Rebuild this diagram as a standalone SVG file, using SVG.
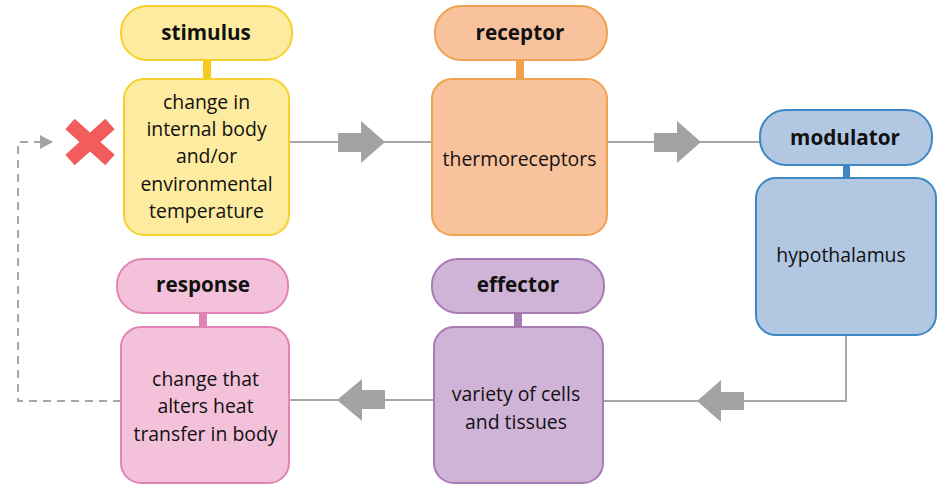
<svg xmlns="http://www.w3.org/2000/svg" width="942" height="489" viewBox="0 0 942 489">
<style>
text{font-family:"Open Sans","Liberation Sans",sans-serif;fill:#111;text-anchor:middle;dominant-baseline:central}
.h{font-weight:bold;font-size:20.7px}
.b{font-size:19.4px}
.ln{fill:none;stroke:#a6a6a6;stroke-width:2}
.ar{fill:#a3a3a3}
.y{fill:#fdeca0;stroke:#f6d02c;stroke-width:2}
.ys{fill:#f5cc1c}
.o{fill:#f8c29d;stroke:#efa24f;stroke-width:2}
.os{fill:#efa04a}
.bl{fill:#b1c7e2;stroke:#3f87c3;stroke-width:2}
.bls{fill:#3f87c3}
.p{fill:#d0b4d8;stroke:#a77bb6;stroke-width:2}
.ps{fill:#a77bb6}
.k{fill:#f3c1da;stroke:#e283b6;stroke-width:2}
.ks{fill:#e283b6}
</style>
<g id="connectors">
<line class="ln" x1="289" y1="142" x2="432" y2="142"/>
<path class="ar" d="M338,133 H361 V121 L385,142 L361,163 V152 H338 Z"/>
<line class="ln" x1="607" y1="142" x2="760" y2="142"/>
<path class="ar" d="M654,133 H677 V121 L701,142 L677,163 V152 H654 Z"/>
<polyline class="ln" points="846,335 846,401 603,401"/>
<path class="ar" d="M744,392 H721 V380 L697,401 L721,422 V410 H744 Z"/>
<line class="ln" x1="434" y1="400" x2="289" y2="400"/>
<path class="ar" d="M385,390 H362 V379 L337,400 L362,421 V409 H385 Z"/>
<polyline class="ln" points="121,401 18,401 18,142 42,142" stroke-dasharray="8,6"/>
<path class="ar" d="M40,135 L53,142 L40,149 Z"/>
</g>
<g id="cross">
<path d="M70,124 L110,160 M110,124 L70,160" stroke="#f25c5c" stroke-width="14" fill="none"/>
</g>
<g id="stimulus">
<rect class="ys" x="203" y="58" width="8" height="22"/>
<rect class="y" x="121" y="6" width="171" height="54" rx="26"/>
<rect class="y" x="124" y="79" width="165" height="156" rx="20"/>
<text class="h" x="206" y="32">stimulus</text>
<text class="b" x="206.5" y="101">change in</text>
<text class="b" x="206.5" y="128">internal body</text>
<text class="b" x="206.5" y="155.5">and/or</text>
<text class="b" x="206.5" y="183">environmental</text>
<text class="b" x="206.5" y="210">temperature</text>
</g>
<g id="receptor">
<rect class="os" x="516" y="58" width="8" height="22"/>
<rect class="o" x="435" y="6" width="172" height="54" rx="26"/>
<rect class="o" x="432" y="79" width="175" height="156" rx="20"/>
<text class="h" x="520" y="32">receptor</text>
<text class="b" x="519.5" y="158">thermoreceptors</text>
</g>
<g id="modulator">
<rect class="bls" x="843" y="163" width="7" height="16"/>
<rect class="bl" x="760" y="110" width="172" height="55" rx="26"/>
<rect class="bl" x="756" y="178" width="180" height="157" rx="20"/>
<text class="h" x="845" y="137">modulator</text>
<text class="b" x="841" y="254">hypothalamus</text>
</g>
<g id="effector">
<rect class="ps" x="514" y="311" width="8" height="18"/>
<rect class="p" x="432" y="259" width="172" height="54" rx="26"/>
<rect class="p" x="434" y="327" width="169" height="156" rx="20"/>
<text class="h" x="518" y="284">effector</text>
<text class="b" x="516" y="393">variety of cells</text>
<text class="b" x="516" y="421">and tissues</text>
</g>
<g id="response">
<rect class="ks" x="199" y="311" width="8" height="18"/>
<rect class="k" x="117" y="259" width="171" height="54" rx="26"/>
<rect class="k" x="121" y="327" width="168" height="156" rx="20"/>
<text class="h" x="203" y="284">response</text>
<text class="b" x="205.5" y="378">change that</text>
<text class="b" x="205.5" y="405">alters heat</text>
<text class="b" x="205.5" y="433">transfer in body</text>
</g>
</svg>
